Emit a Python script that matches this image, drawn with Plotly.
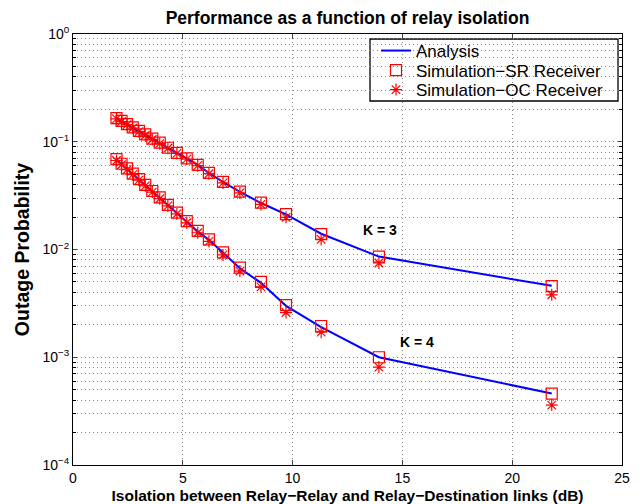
import math
import plotly.graph_objects as go

# Isolation (dB)
isolation_db = [1.98, 2.21, 2.46, 2.72, 3.00, 3.29, 3.61, 3.95, 4.32, 4.73,
                5.18, 5.68, 6.19, 6.83, 7.60, 8.56, 9.70, 11.30, 13.93, 21.80]

# K = 3
analysis_k3 = [0.165, 0.155, 0.145, 0.135, 0.125, 0.116, 0.106, 0.097, 0.088, 0.0786,
               0.0697, 0.0609, 0.0513, 0.0423, 0.0342, 0.0270, 0.0212, 0.0140, 0.0086, 0.0046]
sr_k3 = [0.166, 0.156, 0.146, 0.136, 0.126, 0.117, 0.107, 0.098, 0.088, 0.079,
         0.070, 0.061, 0.0515, 0.0425, 0.0345, 0.0272, 0.0213, 0.0139, 0.0086, 0.00458]
oc_k3 = [0.163, 0.154, 0.144, 0.134, 0.124, 0.115, 0.105, 0.096, 0.087, 0.078,
         0.069, 0.060, 0.0505, 0.0415, 0.0335, 0.0262, 0.0199, 0.0124, 0.0075, 0.0038]

# K = 4
analysis_k4 = [0.068, 0.0619, 0.0559, 0.0501, 0.0446, 0.0395, 0.0346, 0.0301, 0.0258, 0.0218,
               0.0181, 0.0147, 0.0123, 0.0093, 0.0067, 0.0049, 0.0030, 0.0019, 0.00100, 0.00046]
sr_k4 = [0.069, 0.0625, 0.0565, 0.0505, 0.0450, 0.0398, 0.0349, 0.0304, 0.0260, 0.0220,
         0.0183, 0.0149, 0.0124, 0.0094, 0.0068, 0.0050, 0.00305, 0.00195, 0.00100, 0.00046]
oc_k4 = [0.067, 0.0612, 0.0552, 0.0495, 0.0440, 0.0390, 0.0341, 0.0296, 0.0254, 0.0214,
         0.0177, 0.0143, 0.0119, 0.0089, 0.0063, 0.0045, 0.0026, 0.00171, 0.00081, 0.00036]

x_ticks = [0, 5, 10, 15, 20, 25]
y_major = [1e-4, 1e-3, 1e-2, 1e-1, 1]
y_major_text = ["10<sup>−4</sup>", "10<sup>−3</sup>", "10<sup>−2</sup>", "10<sup>−1</sup>", "10<sup>0</sup>"]

curve_labels = ["K = 3", "K = 4"]
label_x = [13.98, 15.66]
label_y = [0.0152, 0.00139]

FONT = "Liberation Sans, Arial, Helvetica, sans-serif"
BLUE = "#0000FF"
RED = "#FF0000"
GRID = "#8a8a8a"

# figure is placed 8px from the page's top-left corner (body margin)
W, H = 633, 496
L, R, T, B = 65, 19, 26, 39
PW, PH = W - L - R, H - T - B


def px_x(page_x):
    return (page_x - 8 - L) / PW


def px_y(page_y):
    return 1 - (page_y - 8 - T) / PH


y_minor = []
for v in y_major[:-1]:
    for m in range(2, 10):
        y_minor.append(v * m)

fig = go.Figure()

series = [(analysis_k3, sr_k3, oc_k3, True), (analysis_k4, sr_k4, oc_k4, False)]
for an, sr, oc, show in series:
    fig.add_trace(go.Scatter(x=isolation_db, y=an, mode="lines", name="Analysis",
                             line=dict(color=BLUE, width=2), legend="legend",
                             showlegend=show))
    fig.add_trace(go.Scatter(x=isolation_db, y=sr, mode="markers", name="Simulation−SR Receiver",
                             marker=dict(symbol="square-open", size=11, color=RED,
                                         line=dict(color=RED, width=1.2)),
                             legend="legend2", showlegend=show))
    fig.add_trace(go.Scatter(x=isolation_db, y=oc, mode="markers", name="Simulation−OC Receiver",
                             marker=dict(symbol="asterisk-open", size=10, color=RED,
                                         line=dict(color=RED, width=1.2)),
                             legend="legend3", showlegend=show))

for t, xx, yy in zip(curve_labels, label_x, label_y):
    fig.add_annotation(x=xx, y=math.log10(yy), yref="y", xref="x", text="<b>%s</b>" % t,
                       showarrow=False, font=dict(family=FONT, size=14, color="black"))

# legend frame
fig.add_shape(type="rect", xref="paper", yref="paper",
              x0=px_x(370), x1=px_x(618), y0=px_y(101), y1=px_y(39),
              line=dict(color="black", width=1.3), fillcolor="white", layer="between")


def leg(page_y):
    return dict(x=px_x(376), y=px_y(page_y), xanchor="left", yanchor="middle",
                bgcolor="rgba(0,0,0,0)", borderwidth=0,
                font=dict(family=FONT, size=17), itemwidth=30)


fig.update_layout(
    width=W, height=H,
    margin=dict(l=L, r=R, t=T, b=B, autoexpand=False),
    paper_bgcolor="white", plot_bgcolor="white",
    font=dict(family=FONT, size=13, color="black"),
    title=dict(text="<b>Performance as a function of relay isolation</b>",
               x=(L + (W - R)) / 2 / W, xanchor="center", y=1 - 9.5 / H, yanchor="middle",
               font=dict(family=FONT, size=17.5)),
    legend=leg(51), legend2=leg(70.5), legend3=leg(90),
    showlegend=True,
)

fig.update_xaxes(range=[0, 25], tickvals=x_ticks, ticks="inside", ticklen=5,
                 showline=True, linecolor="black", linewidth=1, mirror="ticks",
                 showgrid=True, gridcolor=GRID, griddash="1px,3px", gridwidth=1,
                 zeroline=False, tickfont=dict(size=14), automargin=False,
                 title=dict(text="<b>Isolation between Relay−Relay and Relay−Destination links (dB)</b>",
                            font=dict(size=15.5), standoff=5))
fig.update_yaxes(type="log", range=[-4, 0], tickvals=y_major, ticktext=y_major_text,
                 ticks="inside", ticklen=4,
                 showline=True, linecolor="black", linewidth=1, mirror="ticks",
                 showgrid=True, gridcolor=GRID, griddash="1px,3px", gridwidth=1,
                 zeroline=False, tickfont=dict(size=14), automargin=False,
                 minor=dict(tickvals=y_minor, ticks="inside", ticklen=3, tickcolor="black",
                            showgrid=True, gridcolor=GRID, griddash="1px,3px", gridwidth=1),
                 title=dict(text="<b>Outage Probability</b>", font=dict(size=19.5), standoff=7))

fig.write_html("out.html")
